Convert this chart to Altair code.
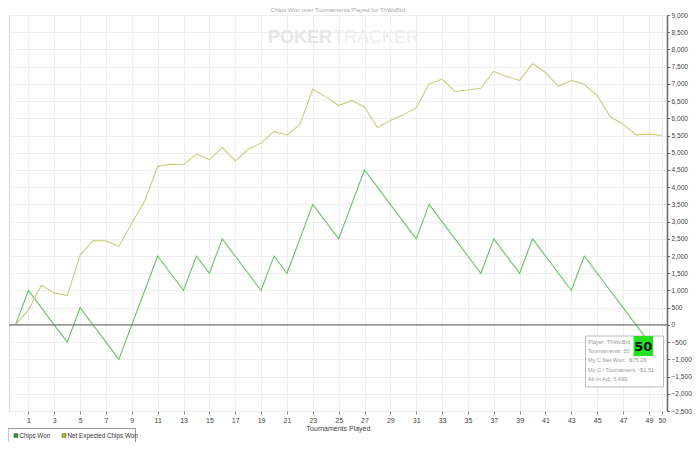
import altair as alt
import pandas as pd

tournaments = list(range(0, 51))
chips_won = [0, 1000, 500, 0, -500, 500, 0, -500, -1000, 0, 1000,
             2000, 1500, 1000, 2000, 1500, 2500, 2000, 1500, 1000, 2000,
             1500, 2500, 3500, 3000, 2500, 3500, 4500, 4000, 3500, 3000,
             2500, 3500, 3000, 2500, 2000, 1500, 2500, 2000, 1500, 2500,
             2000, 1500, 1000, 2000, 1500, 1000, 500, 0, -500, -1000]
net_expected = [0, 430, 1150, 930, 850, 2020, 2450, 2440, 2280, 2950, 3600,
                4600, 4670, 4650, 4960, 4800, 5150, 4760, 5100, 5280, 5620,
                5510, 5820, 6850, 6630, 6370, 6520, 6330, 5730, 5940, 6100,
                6310, 7000, 7140, 6780, 6820, 6870, 7360, 7210, 7100, 7590,
                7330, 6930, 7100, 6990, 6660, 6050, 5830, 5520, 5540, 5499]
series_names = ["Chips Won", "Net Expected Chips Won"]
x_ticks = list(range(1, 50, 2)) + [50]
y_ticks = list(range(-2500, 9001, 500))
tooltip_lines = ["Player: ThWoBrd", "Tournaments: 50", "My C Net Won: -$75.28",
                 "My C / Tournament: -$1.51", "All-In Adj: 5,499"]
badge_text = "50"
title_text = "Chips Won over Tournaments Played for ThWoBrd"

FONT = "Liberation Sans"
W, H = 658, 396

df = pd.DataFrame({
    "t": tournaments * 2,
    "v": chips_won + net_expected,
    "s": [series_names[0]] * len(tournaments) + [series_names[1]] * len(tournaments),
})

xs = alt.Scale(domain=[-0.5, 50.4], nice=False, zero=False)
ys = alt.Scale(domain=[-2500, 9000], nice=False, zero=False)

y_axis = alt.Axis(
    orient="right", values=y_ticks, format=",.0f", title=None, grid=True,
    gridColor="#eeeeee", labelFontSize=6.6, labelColor="#444", tickSize=2.5,
    tickColor="#666", domainColor="#666", domainWidth=1.5, labelPadding=1.5,
    labelFont=FONT)

lines = alt.Chart(df).mark_line(strokeWidth=1.1).encode(
    x=alt.X("t:Q", scale=xs, axis=alt.Axis(
        values=x_ticks, title="Tournaments Played", grid=True, gridColor="#eeeeee",
        labelFontSize=7, labelColor="#444", tickSize=3, tickColor="#888",
        domain=False, titleFontSize=7, titleFontWeight="normal", titleColor="#444",
        titlePadding=1, labelPadding=2, titleX=W / 2, labelFont=FONT, titleFont=FONT)),
    y=alt.Y("v:Q", scale=ys, axis=y_axis),
    color=alt.Color("s:N", scale=alt.Scale(domain=series_names,
                                           range=["#66c466", "#cccc80"]), legend=None),
)

zero = alt.Chart(pd.DataFrame({"v": [0]})).mark_rule(color="#777", strokeWidth=1.3).encode(
    y=alt.Y("v:Q", scale=ys, axis=y_axis))

title = alt.Chart(pd.DataFrame({"t": [title_text]})).mark_text(
    fontSize=6, color="#aaa", font=FONT, baseline="middle").encode(
    text="t:N", x=alt.value(W / 2), y=alt.value(-5))

wm1 = alt.Chart(pd.DataFrame({"t": ["POKER"]})).mark_text(
    fontSize=18, fontWeight="bold", color="#e6e6e6", font=FONT,
    align="right", baseline="middle").encode(text="t:N", x=alt.value(323), y=alt.value(23))
wm2 = alt.Chart(pd.DataFrame({"t": ["TRACKER"]})).mark_text(
    fontSize=18, color="#eeeeee", font=FONT, align="left",
    baseline="middle").encode(text="t:N", x=alt.value(324), y=alt.value(23))

tip_box = alt.Chart(pd.DataFrame({"a": [0]})).mark_rect(
    fill="white", stroke="#bbb", strokeWidth=1).encode(
    x=alt.value(576.5), x2=alt.value(654.5), y=alt.value(321), y2=alt.value(372))
tip_text = alt.Chart(pd.DataFrame({"t": ["\n".join(tooltip_lines)]})).mark_text(
    fontSize=5.6, color="#999", font=FONT, align="left", baseline="middle",
    lineBreak="\n", lineHeight=9.4).encode(text="t:N", x=alt.value(579), y=alt.value(326.5))
badge = alt.Chart(pd.DataFrame({"a": [0]})).mark_rect(fill="#22e022").encode(
    x=alt.value(624.5), x2=alt.value(644), y=alt.value(321), y2=alt.value(341))
badge_t = alt.Chart(pd.DataFrame({"t": [badge_text]})).mark_text(
    fontSize=13, fontWeight="bold", color="#111", font="DejaVu Sans",
    baseline="middle").encode(text="t:N", x=alt.value(634.3), y=alt.value(331.5))

leg_box = alt.Chart(pd.DataFrame({"a": [0]})).mark_rect(
    fill="white", stroke="#999", strokeWidth=1).encode(
    x=alt.value(-1), x2=alt.value(126.5), y=alt.value(413.5), y2=alt.value(427.5))
leg_sq1 = alt.Chart(pd.DataFrame({"a": [0]})).mark_rect(
    fill="#1f9a1f", stroke="#555", strokeWidth=0.5).encode(
    x=alt.value(5), x2=alt.value(9), y=alt.value(418.5), y2=alt.value(422.5))
leg_sq2 = alt.Chart(pd.DataFrame({"a": [0]})).mark_rect(
    fill="#b5b52a", stroke="#555", strokeWidth=0.5).encode(
    x=alt.value(53), x2=alt.value(57), y=alt.value(418.5), y2=alt.value(422.5))
leg_t1 = alt.Chart(pd.DataFrame({"t": [series_names[0]]})).mark_text(
    fontSize=6.3, color="#333", font=FONT, align="left", baseline="middle").encode(
    text="t:N", x=alt.value(10.5), y=alt.value(420.8))
leg_t2 = alt.Chart(pd.DataFrame({"t": [series_names[1]]})).mark_text(
    fontSize=6.3, color="#333", font=FONT, align="left", baseline="middle").encode(
    text="t:N", x=alt.value(58.5), y=alt.value(420.8))

chart = alt.layer(
    wm1, wm2, lines, zero, title, tip_box, tip_text, badge, badge_t,
    leg_box, leg_sq1, leg_sq2, leg_t1, leg_t2
).properties(
    width=W, height=H,
    autosize=alt.AutoSizeParams(type="none"),
    padding={"left": 1, "top": 7, "right": 25, "bottom": 31},
).configure_view(stroke="#aaa", strokeWidth=1).configure(background="white")

chart.save("out.html", embed_options={"renderer": "svg", "actions": False})
